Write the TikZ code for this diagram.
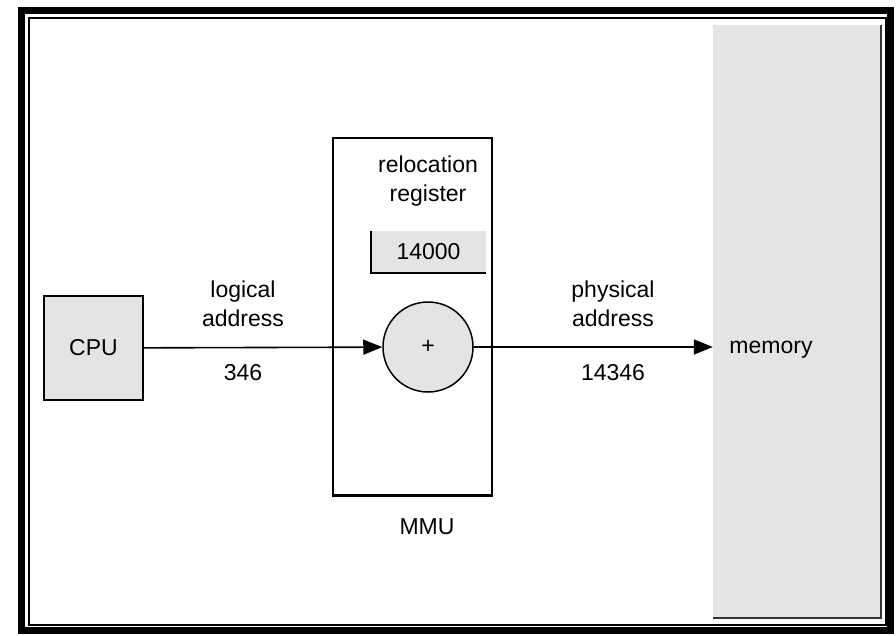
\documentclass[tikz,border=0pt]{standalone}
\usepackage{fontspec}
\setmainfont{Liberation Sans}
\usetikzlibrary{arrows.meta}
\definecolor{boxgray}{RGB}{228,228,228}
\tikzset{
  lbl/.style={align=center,font=\fontsize{23}{29}\selectfont},
  graybox/.style={fill=boxgray,inner sep=0pt},
  flow/.style={line width=1.6pt,-{Triangle[length=19pt,width=15pt]}}
}
\begin{document}
\begin{tikzpicture}[x=1pt,y=-1pt]
\useasboundingbox (0,0) rectangle (896,636);
\draw[line width=7pt] (21,10.5) rectangle (890,630);
\draw[line width=2pt] (28.5,18) rectangle (886,625);
\node[graybox,minimum width=168pt,minimum height=593pt] (mem) at (797,321.5) {};
\draw[line width=2.5pt,black!80] (mem.north east) -- (mem.south east) -- (mem.south west);
\node[lbl] (memtxt) at (771,350) {memory};
\node[draw,line width=1.2pt,minimum width=159pt,minimum height=357pt] (mmu) at (412.5,316.5) {};
\draw[line width=2.5pt] (mmu.south west) -- (mmu.south east);
\node[lbl] (mmutxt) at (427,527) {MMU};
\node[lbl] (reltxt) at (428,181) {relocation\\register};
\node[graybox,lbl,minimum width=115pt,minimum height=42pt] (reg) at (428.5,252) {14000};
\draw[line width=1.8pt] (reg.north west) -- (reg.south west) -- (reg.south east);
\node[draw,graybox,line width=1.5pt,circle,minimum size=90pt,font=\fontsize{23}{29}\selectfont] (adder) at (428,347) {+};
\node[draw,graybox,lbl,line width=1.2pt,minimum width=99pt,minimum height=104pt] (cpu) at (93.5,348) {CPU};
\draw[flow] (cpu) -- (adder);
\draw[flow] (adder) -- (adder -| mem.west);
\node[lbl] (logtxt) at (243,304) {logical\\address};
\node[lbl] (lognum) at (243,373) {346};
\node[lbl] (phystxt) at (613,304) {physical\\address};
\node[lbl] (physnum) at (613,373) {14346};
\end{tikzpicture}
\end{document}
